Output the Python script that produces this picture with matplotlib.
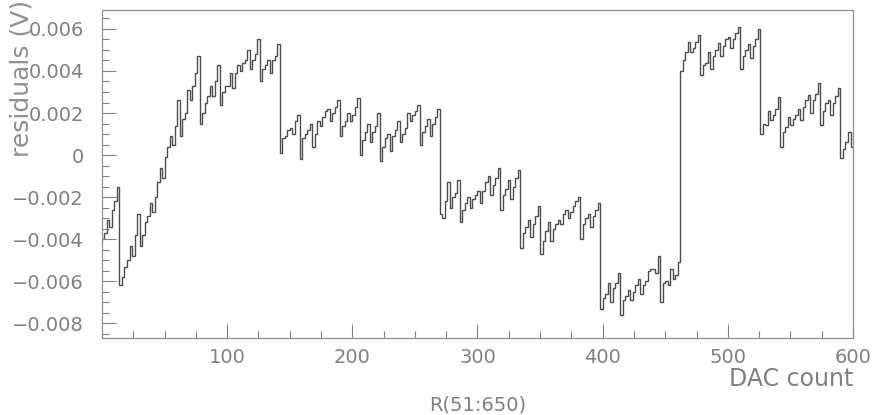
import numpy as np
import matplotlib
matplotlib.use("Agg")
import matplotlib.pyplot as plt
from matplotlib.ticker import MultipleLocator

# residuals in mV, one value per 2 DAC counts (0..600)
seg0 = [-4.0, -3.7, -3.1, -3.4, -2.6, -2.2, -1.5]
seg1 = [-6.2, -5.8, -5.3, -5.0, -4.3, -4.8, -3.8, -2.8,
        -4.3, -3.8, -3.2, -2.9, -2.3, -2.7, -2.0, -1.3,
        -0.6, -1.1, -0.1, 0.4, 0.9, 0.5, 1.4, 2.6,
        0.9, 1.7, 2.0, 3.1, 2.6, 3.3, 3.9, 4.7]
seg2 = [1.5, 2.0, 2.5, 2.8, 3.3, 2.8, 3.5, 4.3,
        2.4, 3.0, 3.3, 3.3, 3.9, 3.2, 3.9, 4.3,
        4.0, 4.4, 4.5, 5.0, 4.1, 4.5, 4.8, 5.5,
        3.5, 4.1, 4.3, 4.5, 3.9, 4.5, 4.7, 5.3]
seg3 = [0.1, 0.8, 0.9, 1.2, 1.3, 1.0, 1.6, 1.9,
        -0.2, 0.8, 1.0, 1.2, 1.5, 0.4, 1.0, 1.6,
        1.4, 1.8, 2.1, 2.2, 1.6, 2.0, 2.3, 2.6,
        0.9, 1.4, 1.6, 2.0, 1.6, 1.9, 2.3, 2.7]
seg4 = [0.0, 0.7, 1.1, 1.5, 0.6, 1.1, 1.4, 2.0,
        -0.3, 0.4, 0.8, 1.0, 0.2, 0.9, 1.2, 1.6,
        0.6, 1.0, 1.3, 2.0, 1.6, 1.9, 2.1, 2.4,
        0.5, 1.1, 1.4, 1.7, 0.9, 1.5, 1.8, 2.2]
seg5 = [-2.8, -3.0, -2.2, -1.3, -2.5, -2.0, -1.8, -1.2,
        -3.2, -2.6, -2.3, -2.0, -2.5, -2.1, -1.9, -1.7,
        -2.3, -1.7, -1.3, -1.0, -1.9, -1.4, -1.1, -0.6,
        -2.6, -1.9, -1.6, -1.2, -2.1, -1.5, -1.1, -0.7]
seg6 = [-4.4, -3.7, -3.4, -3.1, -3.9, -3.3, -2.9, -2.4,
        -4.7, -4.1, -3.6, -3.2, -4.1, -3.5, -3.3, -3.1,
        -3.3, -2.8, -2.6, -3.0, -2.7, -2.4, -2.2, -2.0,
        -4.0, -3.3, -3.0, -2.8, -3.4, -2.9, -2.6, -2.3]
seg7 = [-7.3, -6.8, -6.6, -6.1, -7.0, -6.3, -6.1, -5.6,
        -7.6, -6.9, -6.7, -6.4, -6.9, -6.5, -6.2, -5.9,
        -6.6, -6.2, -6.0, -5.5, -5.4, -5.4, -5.6, -4.8,
        -7.0, -6.1, -6.0, -6.2, -5.4, -5.9, -5.7, -5.1]
seg8 = [4.0, 4.5, 4.9, 5.4, 4.9, 5.1, 5.4, 5.7,
        3.8, 4.3, 4.4, 4.9, 4.1, 4.7, 5.0, 5.35,
        4.7, 5.2, 5.5, 5.6, 5.1, 5.5, 5.8, 6.1,
        4.1, 4.7, 5.0, 5.3, 4.6, 5.2, 5.5, 6.0]
seg9 = [1.0, 1.5, 1.45, 2.1, 1.65, 1.9, 2.2, 2.75,
        0.4, 1.1, 1.35, 1.8, 1.45, 1.7, 1.9, 2.2,
        1.65, 2.3, 2.6, 2.85, 2.0, 2.6, 2.9, 3.45,
        1.45, 2.1, 2.5, 2.6, 1.9, 2.5, 2.8, 3.2]
seg10 = [-0.15, 0.3, 0.6, 1.1, 0.4]

residuals_mV = seg0 + seg1 + seg2 + seg3 + seg4 + seg5 + seg6 + seg7 + seg8 + seg9 + seg10
residuals = np.array(residuals_mV) * 1e-3
edges = np.arange(0, 601, 2)

xticks = [100, 200, 300, 400, 500, 600]
yticks = [-0.008, -0.006, -0.004, -0.002, 0, 0.002, 0.004, 0.006]
ylabels = ["\u22120.008", "\u22120.006", "\u22120.004", "\u22120.002", "0", "0.002", "0.004", "0.006"]

grey = "#808080"

fig = plt.figure(figsize=(8.73, 4.15), dpi=100)
ax = fig.add_axes([0.1168, 0.1855, 0.8603, 0.7904])

ax.stairs(residuals, edges, baseline=None, color="#4d4d4d", linewidth=1.0)

ax.set_xlim(0, 600)
ax.set_ylim(-0.0087, 0.0069)
ax.set_xticks(xticks)
ax.set_yticks(yticks)
ax.set_yticklabels(ylabels)
ax.xaxis.set_minor_locator(MultipleLocator(25))
ax.yaxis.set_minor_locator(MultipleLocator(0.0005))

ax.tick_params(which="both", direction="in", color=grey, labelcolor=grey,
               top=False, right=False)
ax.tick_params(which="major", length=10, width=0.8)
ax.tick_params(which="minor", length=5, width=0.8)
ax.tick_params(axis="x", labelsize=14, pad=7)
ax.tick_params(axis="y", labelsize=14, pad=13)
for s in ax.spines.values():
    s.set_color("#909090")
    s.set_linewidth(0.9)

# ylabel sits at the top end of the axis, left of the short tick labels
ax.set_ylabel("residuals (V)", fontsize=18, color="#909090", loc="top")
ax.yaxis.set_label_coords(-0.091, 1.03)
ax.set_xlabel("DAC count", fontsize=17, color=grey, loc="right", labelpad=0)
fig.text(478 / 873, 1 - 405 / 415, "R(51:650)", fontsize=14, color=grey,
         ha="center", va="center")

fig.savefig("out.png", dpi=100)
